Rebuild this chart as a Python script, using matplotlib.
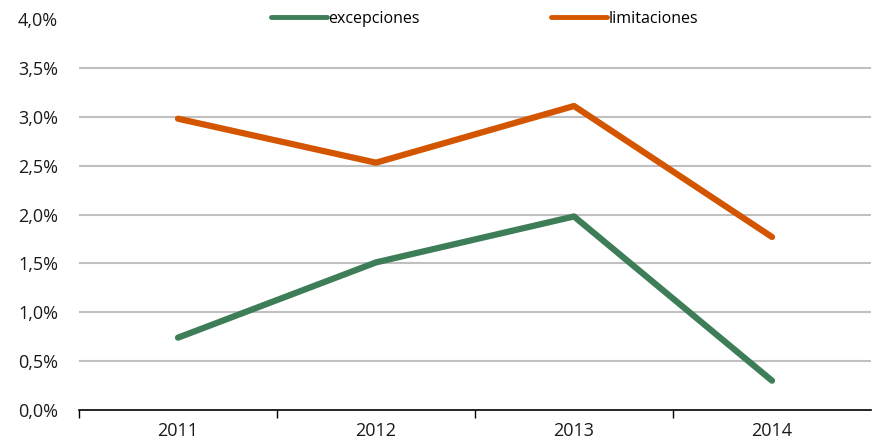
import matplotlib.pyplot as plt
from matplotlib.ticker import FuncFormatter

# Data
years = ['2011', '2012', '2013', '2014']
excepciones = [0.74, 1.51, 1.98, 0.30]
limitaciones = [2.98, 2.53, 3.11, 1.77]

plt.rcParams['font.family'] = ['Open Sans', 'DejaVu Sans']

fig = plt.figure(figsize=(8.72, 4.46), dpi=100)
ax = fig.add_axes([79 / 872, 36 / 446, 792 / 872, 391 / 446])

x = list(range(len(years)))

ax.plot(x, excepciones, color='#3d7d57', lw=4.5, solid_capstyle='round',
        label='excepciones')
ax.plot(x, limitaciones, color='#d45500', lw=4.5, solid_capstyle='round',
        label='limitaciones')

ax.set_xlim(-0.5, 3.5)
ax.set_ylim(0, 4.0)

# Gridlines (none at the top)
for v in [0.5, 1.0, 1.5, 2.0, 2.5, 3.0, 3.5]:
    ax.axhline(v, color='#c0c0c0', lw=1.5, zorder=0)

ax.set_yticks([0, 0.5, 1.0, 1.5, 2.0, 2.5, 3.0, 3.5, 4.0])
ax.yaxis.set_major_formatter(
    FuncFormatter(lambda v, p: f'{v:.1f}%'.replace('.', ',')))
ax.tick_params(axis='y', length=0, pad=15, labelsize=13, colors='#1a1a1a')

ax.set_xticks(x)
ax.set_xticklabels(years)
ax.set_xticks([-0.5, 0.5, 1.5, 2.5], minor=True)
ax.tick_params(axis='x', which='major', length=0, pad=9, labelsize=13,
               colors='#1a1a1a')
ax.tick_params(axis='x', which='minor', length=6, width=1, direction='out')

for s in ['top', 'right', 'left']:
    ax.spines[s].set_visible(False)
ax.spines['bottom'].set_linewidth(1.2)

leg = ax.legend(loc='center', bbox_to_anchor=(0.512, 1.0), ncol=2,
                frameon=False, handlelength=3.5, handletextpad=0.1,
                columnspacing=8.2, fontsize=11.5)
for h in leg.get_lines():
    h.set_linewidth(3.5)

fig.savefig('out.png', dpi=100)
